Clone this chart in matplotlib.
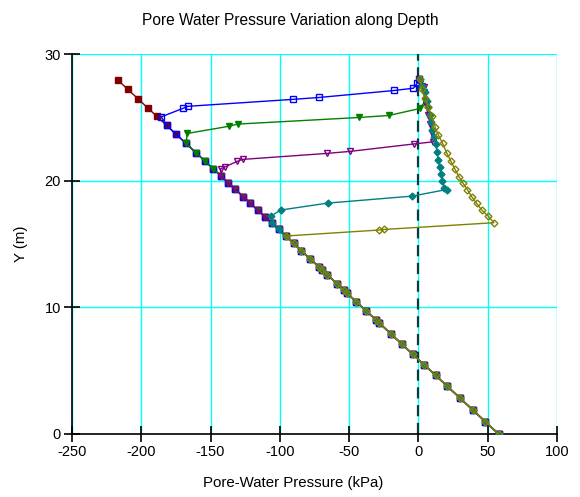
import matplotlib
matplotlib.use("Agg")
import matplotlib.pyplot as plt

plt.rcParams['font.family'] = ['Liberation Sans', 'DejaVu Sans']
plt.rcParams['axes.unicode_minus'] = False

# mesh node elevations (m) and initial (hydrostatic) pore-water pressure (kPa)
node_y = [0.0, 0.97, 1.89, 2.84, 3.76, 4.63, 5.47, 6.29, 7.10, 7.90,
          8.76, 9.00, 9.73, 10.44, 11.15, 11.37, 11.86, 12.57, 12.94, 13.20,
          13.84, 14.47, 15.05, 15.63, 16.15, 16.63, 17.17, 17.68, 18.22, 18.73,
          19.31, 19.84, 20.36, 20.94, 21.52, 22.20, 22.94, 23.68, 24.36, 25.10,
          25.73, 26.47, 27.20, 27.94]
p_init = [57.9, 48.36, 39.31, 29.97, 20.92, 12.36, 4.10, -3.96, -11.93, -19.80,
          -28.25, -30.62, -37.79, -44.78, -51.76, -53.92, -58.74, -65.72, -69.36, -71.92,
          -78.22, -84.41, -90.12, -95.82, -100.94, -105.66, -110.97, -115.99, -121.30, -126.31,
          -132.01, -137.23, -142.34, -148.04, -153.75, -160.44, -167.72, -174.99, -181.68, -188.96,
          -195.16, -202.43, -209.61, -216.89]

# upper parts of the later profiles (above the wetting front)
blue_x = [-185.6, -170.1, -166.5, -90.5, -71.6, -17.5, -3.6, -0.8, 0.2]
blue_y = [25.04, 25.70, 25.87, 26.42, 26.57, 27.12, 27.30, 27.70, 28.0]
blue_n = 39

green_x = [-166.8, -136.5, -130.2, -42.7, -21.3, 1.2, 5.0, 4.0, 2.5, 0.5]
green_y = [23.73, 24.30, 24.47, 24.99, 25.15, 25.70, 26.30, 27.00, 27.50, 28.0]
green_n = 37

purple_x = [-142.7, -139.4, -130.8, -126.9, -66.3, -49.5, -3.2, 10.8, 9.5, 8.4, 7.0, 5.5, 3.9, 1.5, 0.3]
purple_y = [20.94, 21.10, 21.52, 21.68, 22.15, 22.31, 22.90, 23.07, 23.80, 24.50, 25.20, 26.00, 27.40, 27.70, 28.0]
purple_n = 33

teal_x = [-106.6, -99.4, -65.4, -4.6, 20.4, 18.7, 17.2, 16.3, 15.4, 14.4, 13.4, 12.5,
          11.5, 10.0, 9.1, 8.4, 7.1, 6.0, 4.8, 2.8, 1.1]
teal_y = [17.20, 17.68, 18.23, 18.78, 19.30, 19.40, 20.00, 20.50, 21.07, 21.60, 22.26, 22.90,
          23.45, 23.97, 24.60, 25.15, 25.80, 26.30, 27.00, 27.50, 28.0]
teal_n = 26

olive_x = [-28.7, -24.6, 54.5, 50.4, 45.7, 42.1, 38.5, 35.3, 32.2, 29.3, 26.4, 23.3,
           20.4, 17.5, 14.4, 12.0, 9.6, 7.1, 4.8, 2.4, 1.1]
olive_y = [16.10, 16.15, 16.68, 17.20, 17.68, 18.20, 18.73, 19.30, 19.80, 20.30, 20.90, 21.57,
           22.20, 22.94, 23.60, 24.25, 25.10, 25.80, 26.50, 27.20, 28.0]
olive_n = 24

fig = plt.figure(figsize=(5.8, 4.97), dpi=100)
ax = fig.add_axes([0.1241, 0.1268, 0.8362, 0.7645])

ax.set_xlim(-250, 100)
ax.set_ylim(0, 30)
ax.set_xticks([-250, -200, -150, -100, -50, 0, 50, 100])
ax.set_yticks([0, 10, 20, 30])
ax.grid(True, color='#00FFFF', linewidth=1.0)
ax.set_axisbelow(True)
for s in ['top', 'right']:
    ax.spines[s].set_visible(False)
for s in ['left', 'bottom']:
    ax.spines[s].set_color('black')
    ax.spines[s].set_linewidth(1.2)
ax.tick_params(axis='x', direction='inout', length=12, width=1.2, labelsize=10.5, pad=2)
ax.tick_params(axis='y', direction='inout', length=12, width=1.2, labelsize=10.5, pad=2)

ax.axvline(0, color='#0a3a3a', linestyle=(0, (5, 3)), linewidth=1.6, zorder=1.5)

ax.plot(p_init, node_y, color='#800000', marker='s', markersize=4.5, linewidth=1, zorder=3)
ax.plot(p_init[:blue_n] + blue_x, node_y[:blue_n] + blue_y, color='#0000FF', marker='s',
        markersize=4.5, markerfacecolor='none', linewidth=1, zorder=3)
ax.plot(p_init[:green_n] + green_x, node_y[:green_n] + green_y, color='#008000', marker='v',
        markersize=5, linewidth=1, zorder=3)
ax.plot(p_init[:purple_n] + purple_x, node_y[:purple_n] + purple_y, color='#800080', marker='v',
        markersize=5, markerfacecolor='none', linewidth=1, zorder=3)
ax.plot(p_init[:teal_n] + teal_x, node_y[:teal_n] + teal_y, color='#008080', marker='D',
        markersize=3.5, linewidth=1, zorder=3)
ax.plot(p_init[:olive_n] + olive_x, node_y[:olive_n] + olive_y, color='#808000', marker='D',
        markersize=3.5, markerfacecolor='none', linewidth=1, zorder=3)

fig.text(0.5, 1 - 20 / 497, 'Pore Water Pressure Variation along Depth',
         fontsize=11.2, ha='center', va='center')
fig.text(0.505, 1 - 483 / 497, 'Pore-Water Pressure (kPa)', fontsize=10.8,
         ha='center', va='center')
ax.set_ylabel('Y (m)', fontsize=10.8, labelpad=12)

fig.savefig('out.png', dpi=100)
